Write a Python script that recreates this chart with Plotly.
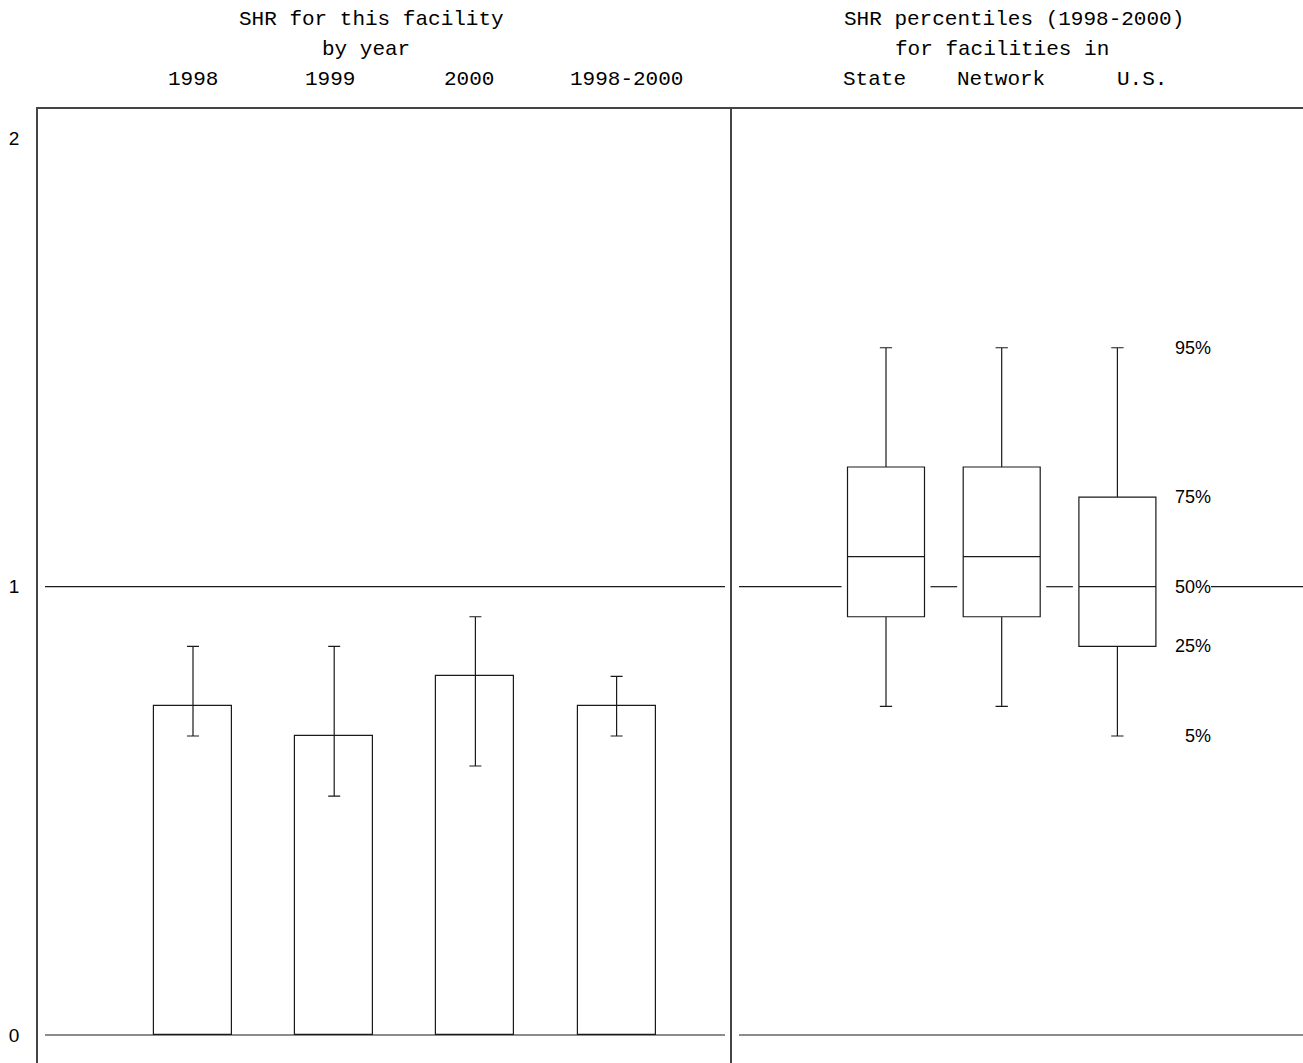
import plotly.graph_objects as go

# ---------------- data ----------------
years = ["1998", "1999", "2000", "1998-2000"]
shr = [0.733, 0.667, 0.800, 0.733]
shr_low = [0.667, 0.533, 0.600, 0.667]
shr_high = [0.867, 0.867, 0.933, 0.800]

groups = ["State", "Network", "U.S."]
p5 = [0.733, 0.733, 0.667]
p25 = [0.933, 0.933, 0.867]
p50 = [1.067, 1.067, 1.000]
p75 = [1.267, 1.267, 1.200]
p95 = [1.533, 1.533, 1.533]
pct_labels = ["5%", "25%", "50%", "75%", "95%"]

y_ticks = [0, 1, 2]
ref_levels = [0, 1]

left_title = ["SHR for this facility", "by year"]
right_title = ["SHR percentiles (1998-2000)", "for facilities in"]

# ---------------- layout constants (pixels) ----------------
W, H = 1303, 1063
L, T = 38, 109
DIV = 732
U1, C1 = 141.2, 193.0      # px per category, first bar centre (left panel)
U2, C2 = 115.7, 886.0      # px per category, first box centre (right panel)
Y0, YS = 1035.0, 448.3     # pixel of y=0, px per unit

def d1(px):
    return 1 + (px - C1) / U1

def d2(px):
    return 1 + (px - C2) / U2

def paper_x(px):
    return (px - L) / (W - L)

def paper_y(py):
    return (H - py) / (H - T)

xr1 = [d1(L), d1(DIV)]
xr2 = [d2(DIV), d2(W)]
yr = [-(H - Y0) / YS, (Y0 - T) / YS]
dom = paper_x(DIV)

xpos1 = list(range(1, len(years) + 1))
xpos2 = list(range(1, len(groups) + 1))
bar_w = 78 / U1
box_w = 77 / U2
INK = "#1a1a1a"
AX = "#444444"
MONO = "Liberation Mono, DejaVu Sans Mono, monospace"
SANS = "Liberation Sans, Arial, Helvetica, sans-serif"

fig = go.Figure()

# reference lines, left panel
for lv in ref_levels:
    fig.add_trace(go.Scatter(x=[d1(L + 7), d1(DIV - 7)], y=[lv, lv], mode="lines",
                             line=dict(color=INK, width=1.2), hoverinfo="skip",
                             showlegend=False, xaxis="x", yaxis="y"))

# reference lines, right panel (broken around boxes and label)
gap = box_w / 2 + 6 / U2
label_end = d2(1213)
for lv in ref_levels:
    xs, ys = [], []
    start = d2(DIV + 7)
    for i, xp in enumerate(xpos2):
        if lv != 0 and p25[i] <= lv <= p75[i]:
            xs += [start, xp - gap, None]
            ys += [lv, lv, None]
            start = xp + gap
    if lv == p50[-1]:
        start = max(start, label_end - 2 / U2)
    xs += [start, xr2[1]]
    ys += [lv, lv]
    fig.add_trace(go.Scatter(x=xs, y=ys, mode="lines", connectgaps=False,
                             line=dict(color=INK, width=1.2), hoverinfo="skip",
                             showlegend=False, xaxis="x2", yaxis="y2"))

# bars with error bars
fig.add_trace(go.Bar(
    x=xpos1, y=shr, width=bar_w,
    marker=dict(color="white", line=dict(color=INK, width=1.2)),
    error_y=dict(type="data", symmetric=False,
                 array=[h - v for h, v in zip(shr_high, shr)],
                 arrayminus=[v - l for v, l in zip(shr, shr_low)],
                 width=6, thickness=1.2, color=INK),
    hoverinfo="skip", showlegend=False, xaxis="x", yaxis="y"))

# percentile boxes
fig.add_trace(go.Box(
    x=xpos2, q1=p25, median=p50, q3=p75, lowerfence=p5, upperfence=p95,
    width=box_w, whiskerwidth=0.16, fillcolor="white",
    line=dict(color=INK, width=1.2), boxpoints=False,
    hoverinfo="skip", showlegend=False, xaxis="x2", yaxis="y2"))

annotations = []
title_rows_y = [20, 49]
left_title_cx = [372, 366]
right_title_cx = [1014, 1002]
for txt, cx, py in zip(left_title, left_title_cx, title_rows_y):
    annotations.append(dict(text=txt, x=paper_x(cx), y=paper_y(py), xref="paper", yref="paper",
                            xanchor="center", yanchor="middle", showarrow=False,
                            font=dict(family=MONO, size=21, color="black")))
for txt, cx, py in zip(right_title, right_title_cx, title_rows_y):
    annotations.append(dict(text=txt, x=paper_x(cx), y=paper_y(py), xref="paper", yref="paper",
                            xanchor="center", yanchor="middle", showarrow=False,
                            font=dict(family=MONO, size=21, color="black")))

hdr_y = paper_y(79)
year_shift = [0, -4, -6, 10]
for xp, txt, sh in zip(xpos1, years, year_shift):
    annotations.append(dict(text=txt, x=xp, y=hdr_y, xref="x", yref="paper", xshift=sh,
                            xanchor="center", yanchor="middle", showarrow=False,
                            font=dict(family=MONO, size=21, color="black")))
group_shift = [-12, -1, 25]
for xp, txt, sh in zip(xpos2, groups, group_shift):
    annotations.append(dict(text=txt, x=xp, y=hdr_y, xref="x2", yref="paper", xshift=sh,
                            xanchor="center", yanchor="middle", showarrow=False,
                            font=dict(family=MONO, size=21, color="black")))

# percentile labels beside the U.S. box
us_vals = [p5[-1], p25[-1], p50[-1], p75[-1], p95[-1]]
for v, txt in zip(us_vals, pct_labels):
    annotations.append(dict(text=txt, x=label_end, y=v, xref="x2", yref="y2",
                            xanchor="right", yanchor="middle", showarrow=False,
                            font=dict(family=SANS, size=18, color="black")))

axis_common = dict(showgrid=False, zeroline=False, showline=True, linecolor=AX,
                   linewidth=1.5, ticks="")

fig.update_layout(
    width=W, height=H,
    margin=dict(l=L, r=0, t=T, b=0, pad=0),
    paper_bgcolor="white", plot_bgcolor="white",
    showlegend=False,
    xaxis=dict(domain=[0, dom], range=xr1, side="top", showticklabels=False,
               anchor="y", **axis_common),
    xaxis2=dict(domain=[dom, 1], range=xr2, side="top", showticklabels=False,
                anchor="y2", **axis_common),
    yaxis=dict(range=yr, tickvals=y_ticks, ticktext=[str(t) for t in y_ticks],
               ticklabelstandoff=13, anchor="x",
               tickfont=dict(family=SANS, size=19, color="black"), **axis_common),
    yaxis2=dict(range=yr, showticklabels=False, anchor="x2", **axis_common),
    annotations=annotations,
    bargap=0,
)

fig.write_html("out.html", config={"displayModeBar": False},
               post_script="document.body.style.margin='0px';")
